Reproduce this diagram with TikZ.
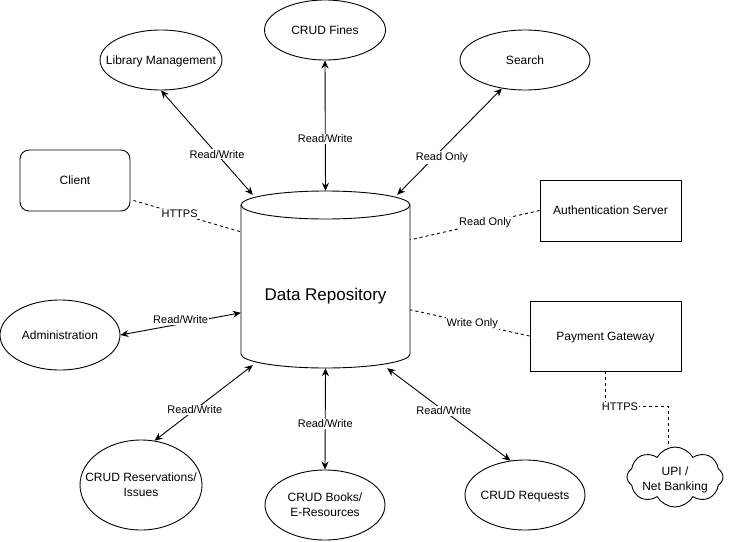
\documentclass[tikz,border=0pt]{standalone}
\usepackage{fontspec}
\setmainfont{Liberation Sans}
\usetikzlibrary{shapes.geometric,shapes.symbols,arrows.meta}
\newcommand\zbx[1]{\makebox[0pt][c]{#1}}
\begin{document}
\begin{tikzpicture}[x=1pt,y=-1pt,
  every node/.style={font=\fontsize{12}{15}\selectfont},
  sl/.style={text height=8.6pt, text depth=0pt},
  ml/.style={align=center},
  ell/.style={draw, ellipse, line width=0.9pt, inner sep=0pt},
  box/.style={draw, rectangle, line width=0.9pt, inner sep=0pt},
  conn/.style={line width=0.9pt, {Stealth[length=8pt,width=7pt]}-{Stealth[length=8pt,width=7pt]}},
  dline/.style={line width=0.9pt, dash pattern=on 3pt off 3pt},
  lbl/.style={fill=white, inner sep=1pt, font=\fontsize{11}{13}\selectfont},
]
\useasboundingbox (0,0) rectangle (741,541);

% cylinder
\draw[line width=0.9pt, fill=white] (241,205) -- (241,354)
  arc[start angle=180, end angle=0, x radius=84.5, y radius=14] -- (410,205);
\draw[line width=0.9pt] (325.5,205) ellipse [x radius=84.5, y radius=14];
\node[minimum width=169pt, minimum height=177pt, inner sep=0pt] (db) at (325.5,279.5) {};
\node[font=\fontsize{17}{20}\selectfont] (dbtext) at (325.5,296) {Data Repository};

% nodes
\node[ell, sl, minimum width=122pt, minimum height=60pt] (lib) at (161,60) {\zbx{Library Management}};
\node[ell, sl, minimum width=121pt, minimum height=60pt] (fines) at (325,30) {\zbx{CRUD Fines}};
\node[ell, sl, minimum width=130pt, minimum height=60pt] (search) at (525,60) {\zbx{Search}};
\node[box, sl, rounded corners=9pt, minimum width=110pt, minimum height=61pt] (client) at (75,180.5) {Client};
\node[box, sl, minimum width=141pt, minimum height=61pt] (auth) at (610.5,210.5) {Authentication Server};
\node[ell, sl, minimum width=120pt, minimum height=70pt] (admin) at (60,335) {\zbx{Administration}};
\node[box, sl, minimum width=151pt, minimum height=70pt] (pay) at (605.5,336) {Payment Gateway};
\node[ell, ml, minimum width=122pt, minimum height=90pt] (rsv) at (141,485) {\zbx{CRUD Reservations/}\\\zbx{Issues}};
\node[ell, ml, minimum width=120pt, minimum height=70pt] (books) at (325,505) {\zbx{CRUD Books/}\\\zbx{E-Resources}};
\node[ell, sl, minimum width=120pt, minimum height=70pt] (req) at (525,495) {\zbx{CRUD Requests}};
\node[cloud, draw, cloud puffs=8, cloud puff arc=120, inner sep=0pt, minimum width=96pt, minimum height=60pt, line width=0.9pt] (upi) at (675,477) {};
\node[ml] (upitext) at (675,480) {UPI /\\Net Banking};

% connectors
\draw[conn] (lib.south) -- node[lbl,pos=0.61]{Read/Write} ([shift={(12,4)}]db.north west);
\draw[conn] (fines.south) -- node[lbl,pos=0.6]{Read/Write} (db.north);
\draw[conn] (search.231) -- node[lbl,pos=0.65,xshift=8pt]{Read Only} ([shift={(-13,4)}]db.north east);
\draw[dline] ([shift={(3,-11)}]client.south east) -- node[lbl,pos=0.43]{HTTPS} ([shift={(0,41)}]db.north west);
\draw[dline] (auth.west) -- node[lbl,pos=0.42]{Read Only} ([shift={(0,49)}]db.north east);
\draw[conn] (admin.east) -- node[lbl,pos=0.5,yshift=4pt]{Read/Write} ([shift={(0,122)}]db.north west);
\draw[dline] (pay.west) -- node[lbl,pos=0.48]{Write Only} ([shift={(0,119)}]db.north east);
\draw[conn] (rsv.73) -- node[lbl,pos=0.41]{Read/Write} ([shift={(12,-3)}]db.south west);
\draw[conn] (books.north) -- node[lbl,pos=0.45]{Read/Write} (db.south);
\draw[conn] (req.113) -- node[lbl,pos=0.54]{Read/Write} ([shift={(-23,0)}]db.south east);
\draw[dline] (pay.south) -- ++(0,35) node[lbl,anchor=west,xshift=-5pt]{HTTPS} -| ([shift={(-7,0)}]upi.north);
\end{tikzpicture}
\end{document}
